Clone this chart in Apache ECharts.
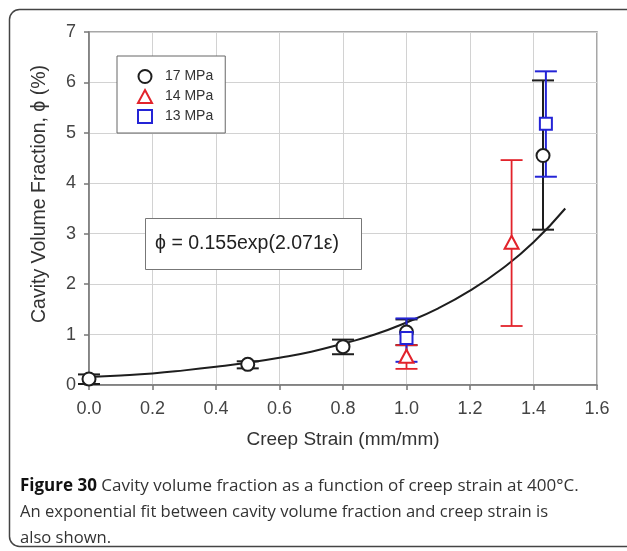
<!DOCTYPE html>
<html>
<head>
<meta charset="utf-8">
<script src="https://cdn.jsdelivr.net/npm/echarts@6/dist/echarts.min.js"></script>
<style>
html,body{margin:0;padding:0;background:#fff;}
#c{width:627px;height:551px;}
</style>
</head>
<body>
<div id="c"></div>
<script>
// ---- data ----
var xTicks = ['0.0','0.2','0.4','0.6','0.8','1.0','1.2','1.4','1.6'];
var yTicks = [0,1,2,3,4,5,6,7];

// 17 MPa: [strain, phi]
var s17 = [[0.0,0.12],[0.5,0.41],[0.8,0.76],[1.0,1.05],[1.43,4.55]];
var s17err = [[0.0,0.02,0.21],[0.5,0.33,0.47],[0.8,0.61,0.90],[1.0,0.79,1.30],[1.43,3.08,6.04]];
// 14 MPa
var s14 = [[1.0,0.57],[1.331,2.83]];
var s14err = [[1.0,0.32,0.79],[1.331,1.17,4.46]];
// 13 MPa
var s13 = [[1.0,0.93],[1.439,5.18]];
var s13err = [[1.0,0.46,1.32],[1.439,4.13,6.22]];
// exponential fit curve
var fitX = [0,0.1,0.2,0.3,0.4,0.5,0.6,0.7,0.8,0.9,1.0,1.1,1.2,1.3,1.4,1.5];
var fitY = [0.16,0.19,0.23,0.29,0.36,0.44,0.54,0.66,0.82,1.0,1.24,1.52,1.87,2.3,2.83,3.5];

var seriesNames = ['17 MPa','14 MPa','13 MPa'];
var xTitle = 'Creep Strain (mm/mm)';
var yTitle = 'Cavity Volume Fraction, \u03D5 (%)';
var captionLines = [
  'Cavity volume fraction as a function of creep strain at 400\u00B0C.',
  'An exponential fit between cavity volume fraction and creep strain is',
  'also shown.'
];
var equation = '\u03D5 = 0.155exp(2.071\u03B5)';

var FONT = 'Liberation Sans, Arial, Helvetica, sans-serif';
var CAP = 'Open Sans, Noto Sans, sans-serif';
var BLACK = '#1e1e1e', RED = '#e2232b', BLUE = '#2424d6';

function errRender(color, lw) {
  return function (params, api) {
    var x = api.value(0), lo = api.value(1), hi = api.value(2);
    var p1 = api.coord([x, lo]), p2 = api.coord([x, hi]);
    var hw = 11;
    var st = {stroke: color, lineWidth: lw};
    return {type: 'group', children: [
      {type: 'line', shape: {x1: p1[0], y1: p1[1], x2: p2[0], y2: p2[1]}, style: st},
      {type: 'line', shape: {x1: p1[0]-hw, y1: p1[1], x2: p1[0]+hw, y2: p1[1]}, style: st},
      {type: 'line', shape: {x1: p2[0]-hw, y1: p2[1], x2: p2[0]+hw, y2: p2[1]}, style: st}
    ]};
  };
}

var fitData = fitX.map(function (x, i) { return [x, fitY[i]]; });

var chart = echarts.init(document.getElementById('c'), null, {renderer: 'canvas'});
chart.setOption({
  animation: false,
  backgroundColor: '#fff',
  grid: {left: 89, top: 32, right: 30, bottom: 166, show: true, borderColor: '#8a8a8a', borderWidth: 1.5, backgroundColor: 'transparent'},
  xAxis: {
    type: 'value', min: 0, max: 1.6, interval: 0.2,
    name: xTitle, nameLocation: 'middle', nameGap: 45,
    nameTextStyle: {fontFamily: FONT, fontSize: 19, color: '#333'},
    axisLine: {show: true, lineStyle: {color: '#777', width: 1.5}},
    axisTick: {show: true, length: 5, lineStyle: {color: '#777', width: 1.5}},
    axisLabel: {fontFamily: FONT, fontSize: 18, color: '#444', margin: 15,
      formatter: function (v) { return xTicks[Math.round(v / 0.2)]; }},
    splitLine: {show: true, lineStyle: {color: '#d2d2d2', width: 1}}
  },
  yAxis: {
    type: 'value', min: 0, max: 7, interval: 1,
    axisLine: {show: true, lineStyle: {color: '#777', width: 1.5}},
    axisTick: {show: true, length: 5, lineStyle: {color: '#777', width: 1.5}},
    axisLabel: {fontFamily: FONT, fontSize: 18, color: '#444', margin: 13,
      formatter: function (v) { return String(yTicks[v]); }},
    splitLine: {show: true, lineStyle: {color: '#d2d2d2', width: 1}}
  },
  legend: {
    data: seriesNames,
    orient: 'vertical', left: 117, top: 56,
    padding: [13, 12, 9, 20], itemGap: 5, itemWidth: 14, itemHeight: 13,
    backgroundColor: '#fff', borderColor: '#666', borderWidth: 1,
    textStyle: {fontFamily: FONT, fontSize: 14, color: '#333', padding: [0, 0, 0, 8]},
    itemStyle: {borderWidth: 2}
  },
  series: [
    {type: 'line', name: 'fit', data: fitData, smooth: true, showSymbol: false, symbol: 'none',
      lineStyle: {color: BLACK, width: 2}, z: 2},
    {type: 'custom', name: 'e17', data: s17err, renderItem: errRender(BLACK, 2), encode: {x: 0, y: [1, 2]}, z: 3},
    {type: 'custom', name: 'e14', data: s14err, renderItem: errRender(RED, 1.8), encode: {x: 0, y: [1, 2]}, z: 3},
    {type: 'custom', name: 'e13', data: s13err, renderItem: errRender(BLUE, 2), encode: {x: 0, y: [1, 2]}, z: 3},
    {type: 'scatter', name: '17 MPa', data: s17, symbol: 'circle', symbolSize: 13,
      itemStyle: {color: '#ffffff', borderColor: BLACK, borderWidth: 2, opacity: 1}, z: 4},
    {type: 'scatter', name: '14 MPa', data: s14, symbol: 'triangle', symbolSize: [14, 13],
      itemStyle: {color: '#ffffff', borderColor: RED, borderWidth: 2, opacity: 1}, z: 4},
    {type: 'scatter', name: '13 MPa', data: s13, symbol: 'rect', symbolSize: 12,
      itemStyle: {color: '#ffffff', borderColor: BLUE, borderWidth: 2, opacity: 1}, z: 4}
  ],
  graphic: [
    {type: 'rect', shape: {x: 9.5, y: 9.5, width: 640, height: 537, r: 10},
      style: {fill: 'none', stroke: '#444', lineWidth: 1.5}, z: 0, silent: true},
    {type: 'text', x: 40, y: 194, rotation: Math.PI / 2, z: 11,
      style: {text: yTitle, fontFamily: FONT, fontSize: 19.5, fill: '#333', align: 'center', verticalAlign: 'middle'}},
    {type: 'rect', shape: {x: 145.5, y: 218.5, width: 216, height: 51},
      style: {fill: '#fff', stroke: '#777', lineWidth: 1}, z: 10},
    {type: 'text', x: 247, y: 244, z: 11,
      style: {text: equation, fontFamily: FONT, fontSize: 19.5, fill: '#222', align: 'center', verticalAlign: 'middle'}},
    {type: 'text', x: 20, y: 486, z: 11,
      style: {text: '{b|Figure 30} ' + captionLines[0], fontFamily: CAP, fontSize: 17, fill: '#333', verticalAlign: 'middle',
        rich: {b: {fontFamily: CAP, fontWeight: 'bold', fontSize: 17, fill: '#111'}}}},
    {type: 'text', x: 20, y: 512, z: 11,
      style: {text: captionLines[1], fontFamily: CAP, fontSize: 16.6, fill: '#333', verticalAlign: 'middle'}},
    {type: 'text', x: 20, y: 538, z: 11,
      style: {text: captionLines[2], fontFamily: CAP, fontSize: 16.6, fill: '#333', verticalAlign: 'middle'}}
  ]
});
</script>
</body>
</html>
